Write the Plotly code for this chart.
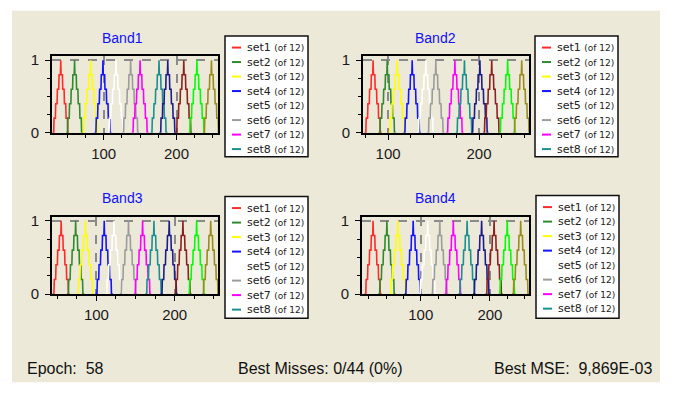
import plotly.graph_objects as go

W, H = 676, 394

# ---------------- data ----------------
SET_NAMES = ["set1", "set2", "set3", "set4", "set5", "set6",
             "set7", "set8", "set9", "set10", "set11", "set12"]
SET_COLORS = ["#FF2A2A", "#2E8B2E", "#FFFF00", "#1414FF", "#FFFFFF", "#9C9C9C",
              "#FF00FF", "#1A9090", "#1C1C8C", "#8E2020", "#00FF00", "#9A8C1A"]
BAND_TITLES = ["Band1", "Band2", "Band3", "Band4"]

BAND1_CENTERS = [41, 60, 82, 99, 117, 137, 150, 176, 188, 210, 228, 248]
BAND2_CENTERS = [83.5, 99, 110, 126.5, 141.5, 152.5, 173.5, 184, 201, 214, 231.5, 247]
BAND3_CENTERS = [55, 73.5, 86, 110, 122.5, 141, 159, 173.5, 193, 210.5, 228, 246]
BAND4_CENTERS = [31, 51, 67, 89, 110, 127.5, 147, 167, 188, 206, 225, 244.5]
BAND_CENTERS = [BAND1_CENTERS, BAND2_CENTERS, BAND3_CENTERS, BAND4_CENTERS]
BAND_HALF_WIDTHS = [11.5, 9.5, 11.0, 12.5]

# triangular membership profile (sampled, slightly stepped)
PROFILE_STEPS = [-5, -4.2, -4, -3.2, -3, -2.2, -2, -1.2, -1, -0.2, 0,
                 0.2, 1, 1.2, 2, 2.2, 3, 3.2, 4, 4.2, 5]
PROFILE_LEVELS = [0, 0, 0.2, 0.2, 0.4, 0.4, 0.6, 0.6, 0.8, 0.8, 1.0,
                  0.8, 0.8, 0.6, 0.6, 0.4, 0.4, 0.2, 0.2, 0, 0]

X_TICKS = [100, 200]
Y_TICKS = [0, 1]
LEGEND_COUNT = 8
LEGEND_SUFFIX = "(of 12)"
FOOTER_TEXTS = ["Epoch:\u00a0\u00a058", "Best Misses:\u00a00/44 (0%)", "Best MSE:\u00a0\u00a09,869E-03"]

# ---------------- layout (pixel geometry) ----------------
BAND_X_RANGES = [[29, 257], [72.4, 255], [43.3, 255.3], [15, 256.5]]
PLOT_BOXES = [(52, 218, 53, 132), (363, 529, 53, 132),
              (52, 218, 219, 299), (362, 529, 219, 299)]
TITLE_POS = [(122, 34), (435, 34), (122, 200), (435, 200)]
LEGEND_BOXES = [(225, 308, 32, 157), (535, 618, 32, 157),
                (225, 308, 198, 324), (536, 619, 197, 324)]
FOOTER_X = [25, 236, 492]
FOOTER_Y = 376


def px(x):
    return x / W


def py(y):
    return 1 - y / H


fig = go.Figure()

for b in range(4):
    hw = BAND_HALF_WIDTHS[b]
    suffix = "" if b == 0 else str(b + 1)
    for s, c in enumerate(BAND_CENTERS[b]):
        xs = [c + k * hw / 5 for k in PROFILE_STEPS]
        fig.add_trace(go.Scatter(
            x=xs, y=PROFILE_LEVELS, mode="lines",
            line=dict(color=SET_COLORS[s], width=1.6, shape="linear"),
            name=SET_NAMES[s], showlegend=False, hoverinfo="skip",
            xaxis="x" + suffix, yaxis="y" + suffix))

tick_font = dict(family="Liberation Sans, Arial, sans-serif", size=15, color="#1a1a1a")
layout = dict(
    width=W, height=H, margin=dict(l=0, r=0, t=0, b=0),
    paper_bgcolor="white", plot_bgcolor="rgba(0,0,0,0)",
    showlegend=False,
)
for b in range(4):
    x0, x1, y0, y1 = PLOT_BOXES[b]
    suffix = "" if b == 0 else str(b + 1)
    layout["xaxis" + suffix] = dict(
        domain=[px(x0), px(x1)], range=BAND_X_RANGES[b], anchor="y" + suffix,
        tickmode="array", tickvals=X_TICKS, ticktext=[str(v) for v in X_TICKS],
        ticks="outside", ticklen=5, tickwidth=1, tickcolor="black",
        minor=dict(tickmode="linear", tick0=0, dtick=25, ticks="outside",
                   ticklen=3, tickcolor="black", showgrid=False),
        showgrid=True, gridcolor="#8a8a8a", griddash="dash", gridwidth=1.5,
        zeroline=False, showline=True, linecolor="black", linewidth=2, mirror=True,
        tickfont=tick_font, ticklabelstandoff=1, fixedrange=True)
    layout["yaxis" + suffix] = dict(
        domain=[py(y1), py(y0)], range=[0, 1.055], anchor="x" + suffix,
        tickmode="array", tickvals=Y_TICKS, ticktext=[str(v) for v in Y_TICKS],
        ticks="outside", ticklen=5, tickwidth=1, tickcolor="black",
        minor=dict(tickmode="linear", tick0=0, dtick=0.25, ticks="outside",
                   ticklen=3, tickcolor="black", showgrid=False),
        showgrid=True, gridcolor="#8a8a8a", griddash="dash", gridwidth=1.5,
        zeroline=False, showline=True, linecolor="black", linewidth=2, mirror=True,
        tickfont=tick_font, ticklabelstandoff=3, fixedrange=True)

shapes = [dict(type="rect", xref="paper", yref="paper", x0=px(12), x1=px(660),
               y0=py(390), y1=py(6), fillcolor="#ECE9D8", line=dict(width=0),
               layer="below")]
annotations = []
for b in range(4):
    tx, ty = TITLE_POS[b]
    annotations.append(dict(text=BAND_TITLES[b], x=px(tx), y=py(ty), xref="paper",
                            yref="paper", showarrow=False, xanchor="center",
                            yanchor="middle",
                            font=dict(family="Liberation Sans, Arial, sans-serif",
                                      size=14, color="#1010FF")))
    lx0, lx1, ly0, ly1 = LEGEND_BOXES[b]
    shapes.append(dict(type="rect", xref="paper", yref="paper", x0=px(lx0), x1=px(lx1),
                       y0=py(ly1), y1=py(ly0), fillcolor="white",
                       line=dict(color="#111111", width=1.5)))
    for i in range(LEGEND_COUNT):
        yy = ly0 + 12 + i * 15
        shapes.append(dict(type="line", xref="paper", yref="paper",
                           x0=px(lx0 + 7), x1=px(lx0 + 16), y0=py(yy), y1=py(yy),
                           line=dict(color=SET_COLORS[i], width=2)))
        annotations.append(dict(
            text=SET_NAMES[i] + " <span style='font-size:9px'>" + LEGEND_SUFFIX + "</span>",
            x=px(lx0 + 20), y=py(yy), xref="paper", yref="paper", showarrow=False,
            xanchor="left", yanchor="middle",
            font=dict(family="DejaVu Sans, sans-serif", size=11, color="#222222")))

for t, fx in zip(FOOTER_TEXTS, FOOTER_X):
    annotations.append(dict(text=t, x=px(fx), y=py(FOOTER_Y), xref="paper", yref="paper",
                            showarrow=False, xanchor="left", yanchor="middle",
                            font=dict(family="Liberation Sans, Arial, sans-serif",
                                      size=16, color="#111111")))

layout["shapes"] = shapes
layout["annotations"] = annotations
fig.update_layout(**layout)
fig.write_html("out.html")
